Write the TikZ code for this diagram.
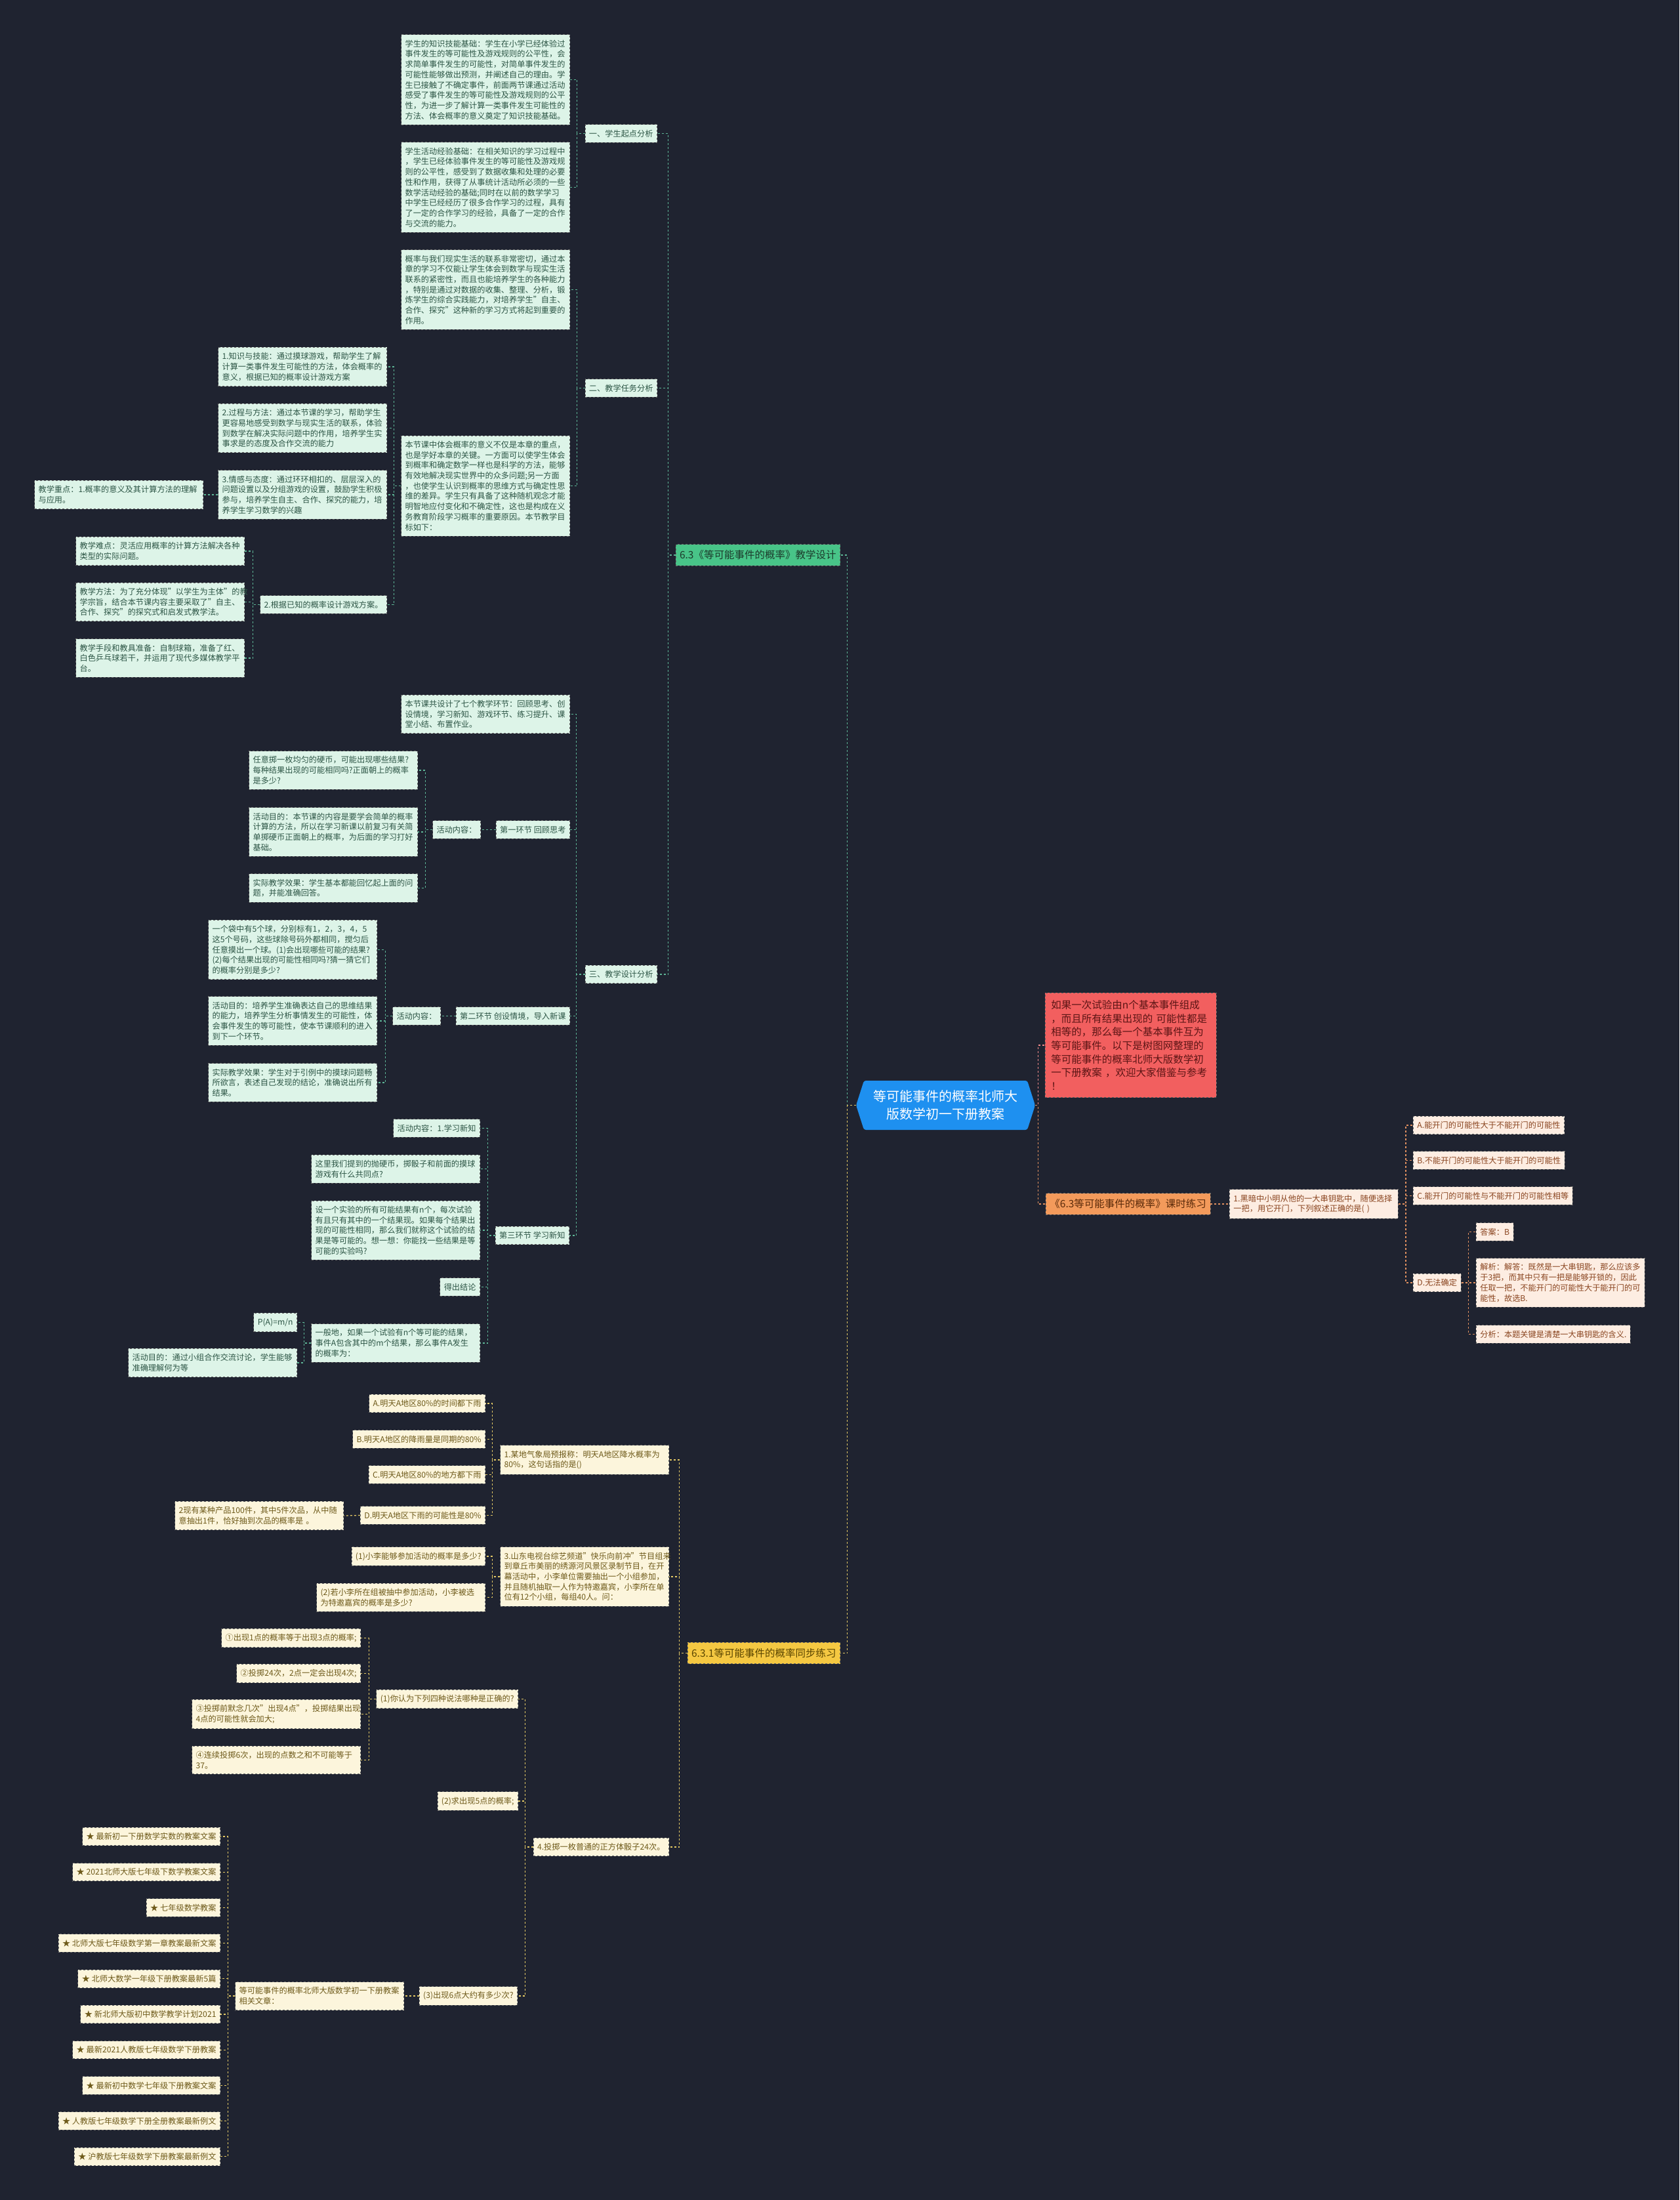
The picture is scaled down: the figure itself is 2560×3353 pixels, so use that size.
\documentclass[tikz,border=0pt]{standalone}
\usepackage{fontspec}
\setmainfont{Noto Sans CJK SC}
\definecolor{bgcol}{HTML}{1F2330}
\definecolor{rootbg}{HTML}{1E90F0}
\definecolor{gbranch}{HTML}{48C488}
\definecolor{gbranchtx}{HTML}{1C3A2B}
\definecolor{gleafbg}{HTML}{DDF4E8}
\definecolor{gleaftx}{HTML}{2C5545}
\definecolor{glinec}{HTML}{5DB596}
\definecolor{ybranch}{HTML}{F5C842}
\definecolor{ybranchtx}{HTML}{5A4500}
\definecolor{yleafbg}{HTML}{FCF5DC}
\definecolor{yleaftx}{HTML}{6E5A1A}
\definecolor{ylinec}{HTML}{E2C865}
\definecolor{obranch}{HTML}{F39A5B}
\definecolor{obranchtx}{HTML}{5A2A0A}
\definecolor{oleafbg}{HTML}{FDEDE2}
\definecolor{oleaftx}{HTML}{8A4520}
\definecolor{olinec}{HTML}{E09060}
\definecolor{redbg}{HTML}{F25F5F}
\definecolor{redtx}{HTML}{5C1515}
\definecolor{rlinec}{HTML}{F08A8A}

\begin{document}
\begin{tikzpicture}[x=1pt,y=-1pt,
  box/.style={draw=black!60, dashed, line width=0.9pt, inner xsep=6pt, inner ysep=8pt,
    align=left, font=\fontsize{12.2}{15.7}\selectfont},
  wide/.style={text width=245pt},
  gleaf/.style={box, fill=gleafbg, text=gleaftx},
  yleaf/.style={box, fill=yleafbg, text=yleaftx},
  oleaf/.style={box, fill=oleafbg, text=oleaftx},
  branch/.style={box, inner ysep=9pt, font=\fontsize{15.5}{19}\selectfont},
  link/.style={dashed, line width=1.2pt},
  glink/.style={link, glinec},
  ylink/.style={link, ylinec},
  olink/.style={link, olinec},
  rlink/.style={link, rlinec}]

\fill[bgcol] (0,0) rectangle (2560,3353);

% root
\fill[rootbg, rounded corners=3pt] (1305,1684.5) -- (1317,1647) -- (1566,1647) -- (1578,1684.5)
  -- (1566,1722) -- (1317,1722) -- cycle;
\node[text=white, font=\fontsize{20}{27}\selectfont, align=center, minimum width=273pt,
  minimum height=75pt, inner sep=0pt] (root) at (1441.5,1684.5)
  {等可能事件的概率北师大\\版数学初一下册教案};

% right side
\node[box, fill=redbg, text=redtx, text width=243pt, inner xsep=9pt, inner ysep=11pt,
  font=\fontsize{15.5}{20.7}\selectfont, anchor=west] (intro) at (1593,1593)
  {如果一次试验由n个基本事件组成\\，而且所有结果出现的 可能性都是\\相等的，那么每一个基本事件互为\\等可能事件。以下是树图网整理的\\等可能事件的概率北师大版数学初\\一下册教案 ，欢迎大家借鉴与参考\\！};
\draw[rlink] (root.east) -- ++(4,0) |- (intro.west);

\node[branch, fill=obranch, text=obranchtx, anchor=west] (lesson) at (1594,1835)
  {《6.3等可能事件的概率》课时练习};
\draw[olink] (root.east) -- ++(4,0) |- (lesson.west);

\node[oleaf, wide, anchor=west] (keys) at (1874,1835)
  {1.黑暗中小明从他的一大串钥匙中，随便选择\\一把，用它开门，下列叙述正确的是( )};
\draw[olink] (lesson.east) -- (keys.west);

\node[oleaf, anchor=west] (keya) at (2154,1715) {A.能开门的可能性大于不能开门的可能性};
\node[oleaf, anchor=west] (keyb) at (2154,1768.5) {B.不能开门的可能性大于能开门的可能性};
\node[oleaf, anchor=west] (keyc) at (2154,1822.5) {C.能开门的可能性与不能开门的可能性相等};
\node[oleaf, anchor=west] (keyd) at (2154,1955) {D.无法确定};
\foreach \k in {keya,keyb,keyc,keyd}
  \draw[olink] (keys.east) -- ++(11,0) |- (\k.west);

\node[oleaf, anchor=west] (ans) at (2250,1877.5) {答案：B};
\node[oleaf, wide, anchor=west] (expl) at (2250,1955)
  {解析：解答：既然是一大串钥匙，那么应该多\\于3把，而其中只有一把是能够开锁的，因此\\任取一把，不能开门的可能性大于能开门的可\\能性，故选B.};
\node[oleaf, anchor=west] (hint) at (2250,2033.5) {分析：本题关键是清楚一大串钥匙的含义.};
\foreach \k in {ans,expl,hint}
  \draw[olink] (keyd.east) -- ++(11,0) |- (\k.west);

% green branch
\node[branch, fill=gbranch, text=gbranchtx, anchor=east] (design) at (1281,846)
  {6.3《等可能事件的概率》教学设计};
\draw[glink] (root.west) -- ++(-13,0) |- (design.east);

\node[gleaf, anchor=east] (start) at (1002,203.5) {一、学生起点分析};
\node[gleaf, anchor=east] (task) at (1002,591.5) {二、教学任务分析};
\node[gleaf, anchor=east] (plan) at (1002,1485) {三、教学设计分析};
\foreach \k in {start,task,plan}
  \draw[glink] (design.west) -- ++(-11,0) |- (\k.east);

\node[gleaf, wide, anchor=east] (skill) at (869,121.5)
  {学生的知识技能基础：学生在小学已经体验过\\事件发生的等可能性及游戏规则的公平性，会\\求简单事件发生的可能性，对简单事件发生的\\可能性能够做出预测，并阐述自己的理由。学\\生已接触了不确定事件，前面两节课通过活动\\感受了事件发生的等可能性及游戏规则的公平\\性，为进一步了解计算一类事件发生可能性的\\方法、体会概率的意义奠定了知识技能基础。};
\node[gleaf, wide, anchor=east] (exper) at (869,285.5)
  {学生活动经验基础：在相关知识的学习过程中\\，学生已经体验事件发生的等可能性及游戏规\\则的公平性，感受到了数据收集和处理的必要\\性和作用，获得了从事统计活动所必须的一些\\数学活动经验的基础;同时在以前的数学学习\\中学生已经经历了很多合作学习的过程，具有\\了一定的合作学习的经验，具备了一定的合作\\与交流的能力。};
\foreach \k in {skill,exper}
  \draw[glink] (start.west) -- ++(-12,0) |- (\k.east);

\node[gleaf, wide, anchor=east] (life) at (869,441.5)
  {概率与我们现实生活的联系非常密切，通过本\\章的学习不仅能让学生体会到数学与现实生活\\联系的紧密性，而且也能培养学生的各种能力\\，特别是通过对数据的收集、整理、分析，锻\\炼学生的综合实践能力，对培养学生"自主、\\合作、探究"这种新的学习方式将起到重要的\\作用。};
\node[gleaf, wide, anchor=east] (goal) at (869,740.5)
  {本节课中体会概率的意义不仅是本章的重点，\\也是学好本章的关键。一方面可以使学生体会\\到概率和确定数学一样也是科学的方法，能够\\有效地解决现实世界中的众多问题;另一方面\\，也使学生认识到概率的思维方式与确定性思\\维的差异。学生只有具备了这种随机观念才能\\明智地应付变化和不确定性，这也是构成在义\\务教育阶段学习概率的重要原因。本节教学目\\标如下：};
\foreach \k in {life,goal}
  \draw[glink] (task.west) -- ++(-12,0) |- (\k.east);

\node[gleaf, wide, anchor=east] (goala) at (590,559)
  {1.知识与技能：通过摸球游戏，帮助学生了解\\计算一类事件发生可能性的方法，体会概率的\\意义，根据已知的概率设计游戏方案};
\node[gleaf, wide, anchor=east] (goalb) at (590,652.5)
  {2.过程与方法：通过本节课的学习，帮助学生\\更容易地感受到数学与现实生活的联系，体验\\到数学在解决实际问题中的作用，培养学生实\\事求是的态度及合作交流的能力};
\node[gleaf, wide, anchor=east] (goalc) at (590,754)
  {3.情感与态度：通过环环相扣的、层层深入的\\问题设置以及分组游戏的设置，鼓励学生积极\\参与，培养学生自主、合作、探究的能力，培\\养学生学习数学的兴趣};
\node[gleaf, anchor=east] (game) at (590,921.5) {2.根据已知的概率设计游戏方案。};
\foreach \k in {goala,goalb,goalc,game}
  \draw[glink] (goal.west) -- ++(-11,0) |- (\k.east);

\node[gleaf, wide, anchor=east] (focus) at (310,754)
  {教学重点：1.概率的意义及其计算方法的理解\\与应用。};
\draw[glink] (goalc.west) -- (focus.east);

\node[gleaf, wide, anchor=east] (hard) at (373,840)
  {教学难点：灵活应用概率的计算方法解决各种\\类型的实际问题。};
\node[gleaf, wide, anchor=east] (method) at (373,917.5)
  {教学方法：为了充分体现"以学生为主体"的教\\学宗旨，结合本节课内容主要采取了"自主、\\合作、探究"的探究式和启发式教学法。};
\node[gleaf, wide, anchor=east] (tools) at (373,1003)
  {教学手段和教具准备：自制球箱，准备了红、\\白色乒乓球若干，并运用了现代多媒体教学平\\台。};
\foreach \k in {hard,method,tools}
  \draw[glink] (game.west) -- ++(-11,0) |- (\k.east);

\node[gleaf, wide, anchor=east] (steps) at (869,1088.5)
  {本节课共设计了七个教学环节：回顾思考、创\\设情境，学习新知、游戏环节、练习提升、课\\堂小结、布置作业。};
\node[gleaf, anchor=east] (stepa) at (869,1264.5) {第一环节 回顾思考};
\node[gleaf, anchor=east] (stepb) at (869,1548.5) {第二环节 创设情境，导入新课};
\node[gleaf, anchor=east] (stepc) at (868,1883) {第三环节 学习新知};
\foreach \k in {steps,stepa,stepb,stepc}
  \draw[glink] (plan.west) -- ++(-13,0) |- (\k.east);

% first step
\node[gleaf, anchor=east] (acta) at (733,1264.5) {活动内容：};
\draw[glink] (stepa.west) -- (acta.east);
\node[gleaf, wide, anchor=east] (coin) at (637,1174)
  {任意掷一枚均匀的硬币，可能出现哪些结果?\\每种结果出现的可能相同吗?正面朝上的概率\\是多少?};
\node[gleaf, wide, anchor=east] (aima) at (637,1268)
  {活动目的：本节课的内容是要学会简单的概率\\计算的方法，所以在学习新课以前复习有关简\\单掷硬币正面朝上的概率，为后面的学习打好\\基础。};
\node[gleaf, wide, anchor=east] (effa) at (637,1353.5)
  {实际教学效果：学生基本都能回忆起上面的问\\题，并能准确回答。};
\foreach \k in {coin,aima,effa}
  \draw[glink] (acta.west) -- ++(-11,0) |- (\k.east);

% second step
\node[gleaf, anchor=east] (actb) at (672,1548.5) {活动内容：};
\draw[glink] (stepb.west) -- (actb.east);
\node[gleaf, wide, anchor=east] (bag) at (575,1447.5)
  {一个袋中有5个球，分别标有1，2，3，4，5\\这5个号码，这些球除号码外都相同，搅匀后\\任意摸出一个球。(1)会出现哪些可能的结果?\\(2)每个结果出现的可能性相同吗?猜一猜它们\\的概率分别是多少?};
\node[gleaf, wide, anchor=east] (aimb) at (575,1556)
  {活动目的：培养学生准确表达自己的思维结果\\的能力，培养学生分析事情发生的可能性，体\\会事件发生的等可能性，使本节课顺利的进入\\到下一个环节。};
\node[gleaf, wide, anchor=east] (effb) at (575,1650)
  {实际教学效果：学生对于引例中的摸球问题畅\\所欲言，表述自己发现的结论，准确说出所有\\结果。};
\foreach \k in {bag,aimb,effb}
  \draw[glink] (actb.west) -- ++(-11,0) |- (\k.east);

% third step
\node[gleaf, anchor=east] (actc) at (732,1719.5) {活动内容：1.学习新知};
\node[gleaf, wide, anchor=east] (common) at (732,1781.5)
  {这里我们提到的抛硬币，掷骰子和前面的摸球\\游戏有什么共同点?};
\node[gleaf, wide, anchor=east] (equal) at (732,1875)
  {设一个实验的所有可能结果有n个，每次试验\\有且只有其中的一个结果现。如果每个结果出\\现的可能性相同，那么我们就称这个试验的结\\果是等可能的。想一想：你能找一些结果是等\\可能的实验吗?};
\node[gleaf, anchor=east] (concl) at (732,1961.5) {得出结论};
\node[gleaf, wide, anchor=east] (general) at (732,2047)
  {一般地，如果一个试验有n个等可能的结果，\\事件A包含其中的m个结果，那么事件A发生\\的概率为：};
\foreach \k in {actc,common,equal,concl,general}
  \draw[glink] (stepc.west) -- ++(-11,0) |- (\k.east);

\node[gleaf, anchor=east] (formula) at (453,2015.5) {P(A)=m/n};
\node[gleaf, wide, anchor=east] (aimc) at (453,2077)
  {活动目的：通过小组合作交流讨论，学生能够\\准确理解何为等};
\foreach \k in {formula,aimc}
  \draw[glink] (general.west) -- ++(-11,0) |- (\k.east);

% yellow branch
\node[branch, fill=ybranch, text=ybranchtx, anchor=east] (practice) at (1281,2519.5)
  {6.3.1等可能事件的概率同步练习};
\draw[ylink] (root.west) -- ++(-13,0) |- (practice.east);

\node[yleaf, wide, anchor=east] (rain) at (1020,2225)
  {1.某地气象局预报称：明天A地区降水概率为\\80\%，这句话指的是()};
\node[yleaf, wide, anchor=east] (show) at (1020,2403)
  {3.山东电视台综艺频道"快乐向前冲"节目组来\\到章丘市美丽的绣源河风景区录制节目，在开\\幕活动中，小李单位需要抽出一个小组参加，\\并且随机抽取一人作为特邀嘉宾，小李所在单\\位有12个小组，每组40人。问：};
\node[yleaf, anchor=east] (dice) at (1020,2815) {4.投掷一枚普通的正方体骰子24次。};
\foreach \k in {rain,show,dice}
  \draw[ylink] (practice.west) -- ++(-12,0) |- (\k.east);

\node[yleaf, anchor=east] (raina) at (740,2139) {A.明天A地区80\%的时间都下雨};
\node[yleaf, anchor=east] (rainb) at (740,2193.5) {B.明天A地区的降雨量是同期的80\%};
\node[yleaf, anchor=east] (rainc) at (740,2247.5) {C.明天A地区80\%的地方都下雨};
\node[yleaf, anchor=east] (raind) at (740,2309.5) {D.明天A地区下雨的可能性是80\%};
\foreach \k in {raina,rainb,rainc,raind}
  \draw[ylink] (rain.west) -- ++(-12,0) |- (\k.east);

\node[yleaf, wide, anchor=east] (goods) at (524,2310)
  {2现有某种产品100件，其中5件次品，从中随\\意抽出1件，恰好抽到次品的概率是 。};
\draw[ylink] (raind.west) -- (goods.east);

\node[yleaf, anchor=east] (showa) at (740,2372) {(1)小李能够参加活动的概率是多少?};
\node[yleaf, wide, anchor=east] (showb) at (740,2434.5)
  {(2)若小李所在组被抽中参加活动，小李被选\\为特邀嘉宾的概率是多少?};
\foreach \k in {showa,showb}
  \draw[ylink] (show.west) -- ++(-12,0) |- (\k.east);

\node[yleaf, anchor=east] (dicea) at (790,2589.5) {(1)你认为下列四种说法哪种是正确的?};
\node[yleaf, anchor=east] (diceb) at (790,2745) {(2)求出现5点的概率;};
\node[yleaf, anchor=east] (dicec) at (789,3042) {(3)出现6点大约有多少次?};
\foreach \k in {dicea,diceb,dicec}
  \draw[ylink] (dice.west) -- ++(-12,0) |- (\k.east);

\node[yleaf, anchor=east] (claima) at (550,2496.5) {①出现1点的概率等于出现3点的概率;};
\node[yleaf, anchor=east] (claimb) at (550,2550.5) {②投掷24次，2点一定会出现4次;};
\node[yleaf, wide, anchor=east] (claimc) at (550,2612.5)
  {③投掷前默念几次"出现4点"，投掷结果出现\\4点的可能性就会加大;};
\node[yleaf, wide, anchor=east] (claimd) at (550,2682.5)
  {④连续投掷6次，出现的点数之和不可能等于\\37。};
\foreach \k in {claima,claimb,claimc,claimd}
  \draw[ylink] (dicea.west) -- ++(-11,0) |- (\k.east);

\node[yleaf, wide, anchor=east] (related) at (616,3042)
  {等可能事件的概率北师大版数学初一下册教案\\相关文章：};
\draw[ylink] (dicec.west) -- (related.east);

\foreach \i/\txt in {1/最新初一下册数学实数的教案文案, 2/2021北师大版七年级下数学教案文案,
    3/七年级数学教案, 4/北师大版七年级数学第一章教案最新文案, 5/北师大数学一年级下册教案最新5篇,
    6/新北师大版初中数学教学计划2021, 7/最新2021人教版七年级数学下册教案,
    8/最新初中数学七年级下册教案文案, 9/人教版七年级数学下册全册教案最新例文,
    10/沪教版七年级数学下册教案最新例文}{
  \node[yleaf, anchor=east] (art\i) at (336,{2799+(\i-1)*54.2}) {★ \txt};
  \draw[ylink] (related.west) -- ++(-11,0) |- (art\i.east);
}
\end{tikzpicture}
\end{document}
